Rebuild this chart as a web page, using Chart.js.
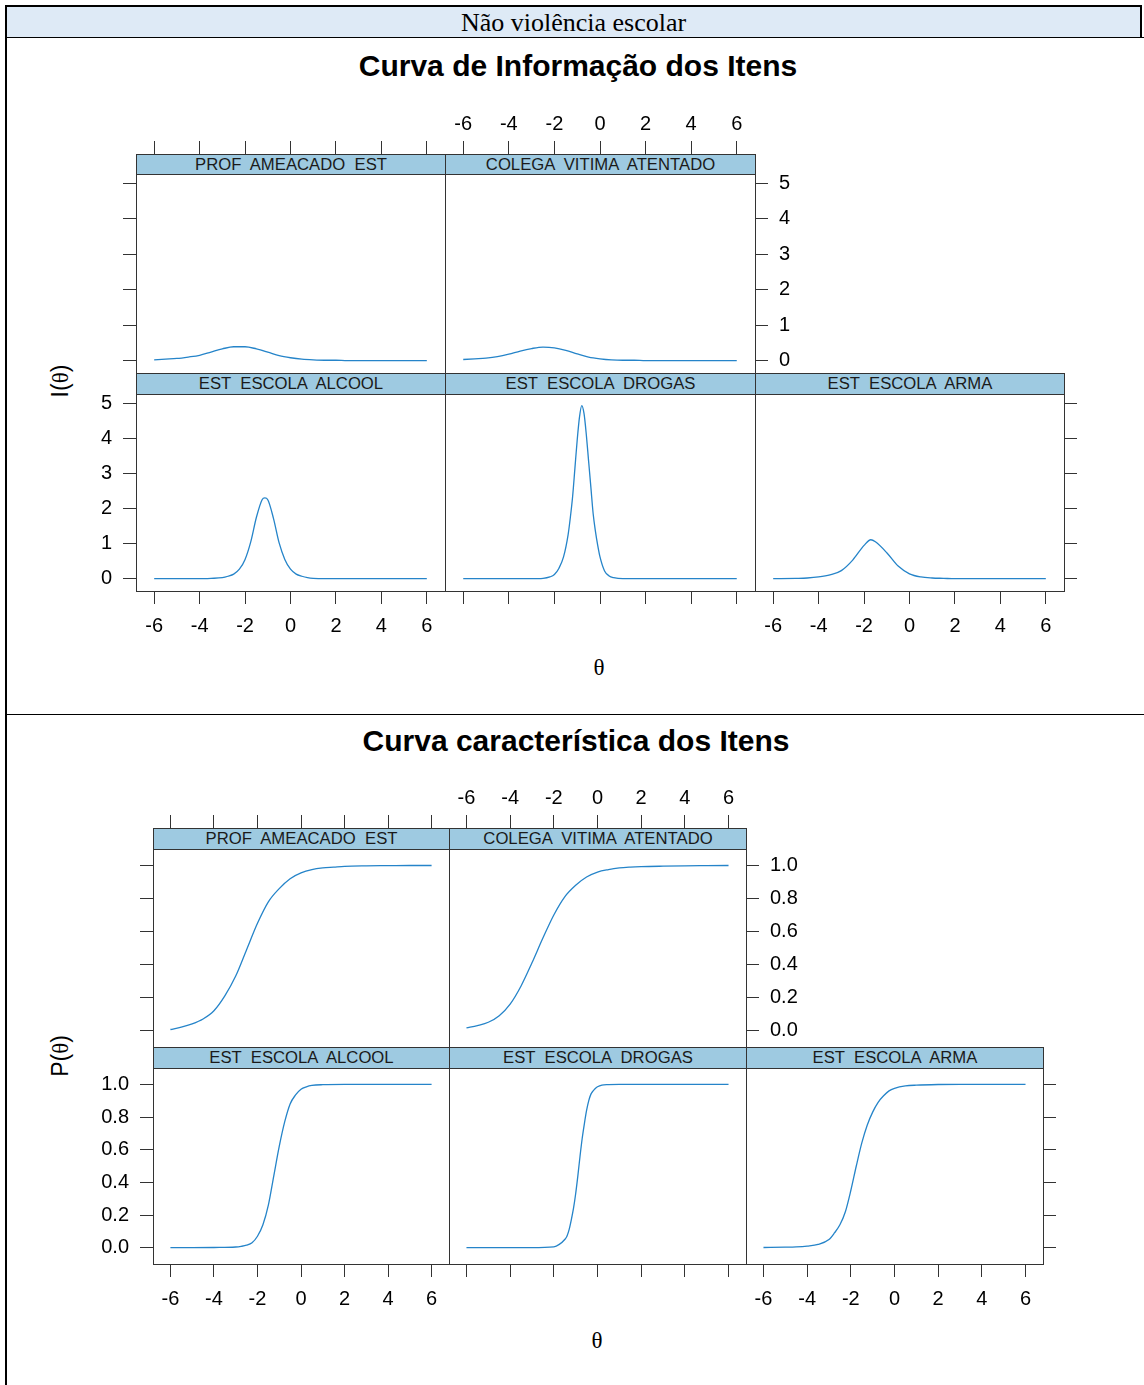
<!DOCTYPE html>
<html><head><meta charset="utf-8">
<script src="https://cdn.jsdelivr.net/npm/chart.js@4.4.1/dist/chart.umd.min.js"></script>
<style>
html,body{margin:0;padding:0;background:#fff}
body{width:1144px;height:1385px;position:relative;overflow:hidden;font-family:"Liberation Sans",Arial,sans-serif}
.box{position:absolute}
.strip{position:absolute;background:#9ecae1;border:1px solid #333;box-sizing:border-box;text-align:center;font-size:16.7px;color:#1a1a1a;white-space:pre;z-index:3}
.frame{position:absolute;border:1px solid #333;box-sizing:border-box;z-index:2;pointer-events:none}
canvas.panel{position:absolute;z-index:1}
.title{position:absolute;font-weight:bold;font-size:30px;transform:translate(-50%,-50%);white-space:nowrap;color:#000}
.ylab{position:absolute;font-size:23px;transform:translate(-50%,-50%) rotate(-90deg);white-space:nowrap}
.xlab{position:absolute;font-size:23px;transform:translate(-50%,-50%);font-family:"Liberation Serif","Times New Roman",serif}
.sym{font-family:"Liberation Serif","Times New Roman",serif}
</style>
</head>
<body>
<!-- table frame -->
<div class="box" style="left:5px;top:5px;width:1137px;height:2px;background:#000"></div>
<div class="box" style="left:5px;top:5px;width:2px;height:1380px;background:#000"></div>
<div class="box" style="left:7px;top:7px;width:1133px;height:30px;background:#deeaf6"></div>
<div class="box" style="left:1140px;top:5px;width:2px;height:33px;background:#000"></div>
<div class="box" style="left:5px;top:37px;width:1139px;height:1px;background:#000"></div>
<div class="box" style="left:5px;top:714px;width:1139px;height:1px;background:#000"></div>
<div class="box" style="left:7px;top:7px;width:1133px;height:30px;line-height:31px;text-align:center;font-family:'Liberation Serif','Times New Roman',serif;font-size:26px;color:#000">Não violência escolar</div>

<div class="title" style="left:578px;top:66px">Curva de Informação dos Itens</div>
<div class="title" style="left:576px;top:741px">Curva característica dos Itens</div>
<div class="ylab" style="left:60px;top:381px">I(<span class="sym">θ</span>)</div>
<div class="ylab" style="left:60px;top:1056px">P(<span class="sym">θ</span>)</div>
<div class="xlab" style="left:599px;top:668px">θ</div>
<div class="xlab" style="left:597px;top:1341px">θ</div>

<script>
// ---------- data ----------
const itemNames = ['PROF  AMEACADO  EST', 'COLEGA  VITIMA  ATENTADO', 'EST  ESCOLA  ALCOOL', 'EST  ESCOLA  DROGAS', 'EST  ESCOLA  ARMA'];
const xTicks = [-6, -4, -2, 0, 2, 4, 6];
const infoYTicks = [0, 1, 2, 3, 4, 5];
const iccYTicks = [0, 0.2, 0.4, 0.6, 0.8, 1.0];
const iccYTickLabels = ['0.0', '0.2', '0.4', '0.6', '0.8', '1.0'];

// Item information curves
const thetaInfoProfColega = [-6,-5.5,-5,-4.5,-4,-3.5,-3,-2.5,-2,-1.5,-1,-0.5,0,0.5,1,1.5,2,2.5,3,4,5,6];
const infoProf   = [0.02,0.04,0.06,0.10,0.15,0.24,0.33,0.39,0.39,0.33,0.24,0.14,0.08,0.04,0.02,0.01,0.01,0,0,0,0,0];
const infoColega = [0.03,0.05,0.07,0.11,0.18,0.27,0.34,0.38,0.36,0.29,0.19,0.10,0.05,0.02,0.01,0.01,0,0,0,0,0,0];
const thetaInfoAlcool = [-6,-5,-4,-3.5,-3,-2.75,-2.5,-2.25,-2,-1.75,-1.5,-1.25,-1.13,-1,-0.75,-0.5,-0.25,0,0.25,0.5,0.75,1,1.5,2,3,4,5,6];
const infoAlcool = [0,0,0,0.01,0.03,0.07,0.13,0.27,0.55,1.05,1.75,2.25,2.30,2.25,1.72,1.02,0.55,0.27,0.13,0.07,0.03,0.01,0,0,0,0,0,0];
const thetaInfoDrogas = [-6,-5,-4,-3,-2.5,-2.2,-2,-1.8,-1.6,-1.4,-1.3,-1.2,-1.1,-1,-0.9,-0.8,-0.7,-0.6,-0.5,-0.4,-0.3,-0.2,-0.1,0,0.2,0.4,0.6,1,2,3,4,5,6];
const infoDrogas = [0,0,0,0,0.01,0.05,0.12,0.30,0.62,1.25,1.75,2.35,3.15,3.95,4.60,4.93,4.70,4.10,3.35,2.60,1.85,1.35,0.95,0.62,0.22,0.08,0.03,0,0,0,0,0,0];
const thetaInfoArma = [-6,-5,-4.5,-4,-3.5,-3,-2.5,-2,-1.7,-1.5,-1,-0.5,0,0.5,1,1.5,2,3,4,5,6];
const infoArma = [0,0.01,0.02,0.05,0.11,0.23,0.53,0.95,1.11,1.05,0.74,0.36,0.14,0.05,0.02,0.01,0,0,0,0,0];

// Item characteristic curves
const thetaIccProfColega = [-6,-5.5,-5,-4.5,-4,-3.5,-3,-2.5,-2,-1.5,-1,-0.5,0,0.5,1,1.5,2,3,4,5,6];
const iccProf   = [0.006,0.02,0.04,0.07,0.12,0.21,0.33,0.49,0.65,0.78,0.86,0.92,0.955,0.975,0.985,0.99,0.995,0.998,0.999,1,1];
const iccColega = [0.016,0.03,0.05,0.09,0.16,0.27,0.41,0.56,0.70,0.81,0.88,0.93,0.96,0.975,0.985,0.99,0.993,0.996,0.998,0.999,1];
const thetaIccAlcool = [-6,-5,-4,-3,-2.75,-2.5,-2.25,-2,-1.75,-1.5,-1.25,-1,-0.75,-0.5,-0.25,0,0.25,0.5,1,2,3,4,5,6];
const iccAlcool = [0,0,0.001,0.004,0.008,0.015,0.03,0.07,0.14,0.26,0.44,0.62,0.77,0.88,0.935,0.97,0.985,0.993,0.998,1,1,1,1,1];
const thetaIccDrogas = [-6,-5,-4,-3,-2,-1.75,-1.5,-1.4,-1.3,-1.2,-1.1,-1,-0.9,-0.8,-0.7,-0.6,-0.5,-0.4,-0.3,-0.2,-0.1,0,0.2,0.5,1,2,3,4,5,6];
const iccDrogas = [0,0,0,0,0.005,0.02,0.05,0.07,0.11,0.17,0.24,0.33,0.44,0.56,0.67,0.76,0.84,0.90,0.94,0.96,0.975,0.985,0.995,0.998,1,1,1,1,1,1];
const thetaIccArma = [-6,-5,-4.5,-4,-3.5,-3,-2.75,-2.5,-2.25,-2,-1.75,-1.5,-1.25,-1,-0.75,-0.5,-0.25,0,0.5,1,2,3,4,5,6];
const iccArma = [0.001,0.003,0.005,0.01,0.02,0.05,0.09,0.14,0.22,0.35,0.50,0.64,0.75,0.83,0.89,0.93,0.96,0.975,0.99,0.995,0.999,1,1,1,1];

// ---------- drawing ----------
const FONT = "'Liberation Sans', Arial, sans-serif";
const LINE = '#2584c9';
const AX = '#333333';
const ML = 80, MR = 80, MT = 80, MB = 70, TL = 13;

function xScale(mode, position, tl, xlim) {
  return {
    type: 'linear', position, min: xlim[0], max: xlim[1], display: true,
    afterBuildTicks: s => { s.ticks = xTicks.map(v => ({ value: v })); },
    afterFit: s => { s.height = position === 'top' ? MT : MB; },
    border: { display: false },
    grid: { display: mode !== 'none', drawOnChartArea: false, drawTicks: true, tickLength: tl, color: AX, tickColor: AX, lineWidth: 1, tickWidth: 1 },
    ticks: { display: mode === 'labels', autoSkip: false, maxRotation: 0, minRotation: 0,
             padding: position === 'top' ? 7 : 12, color: '#000',
             font: { family: FONT, size: 20, lineHeight: 1 },
             callback: v => String(v) }
  };
}
function yScale(mode, position, ylim, yt, ylabels) {
  return {
    type: 'linear', position, min: ylim[0], max: ylim[1], display: true,
    afterBuildTicks: s => { s.ticks = yt.map(v => ({ value: v })); },
    afterFit: s => { s.width = position === 'left' ? ML : MR; },
    border: { display: false },
    grid: { display: mode !== 'none', drawOnChartArea: false, drawTicks: true, tickLength: TL, color: AX, tickColor: AX, lineWidth: 1, tickWidth: 1 },
    ticks: { display: mode === 'labels', autoSkip: false, padding: 11, color: '#000',
             font: { family: FONT, size: 20, lineHeight: 1 },
             callback: (v, i) => ylabels ? ylabels[i] : String(v) }
  };
}

function makeFigure(fig) {
  fig.panels.forEach(p => {
    const left = fig.cols[p.col], w = fig.cols[p.col + 1] - left;
    const row = fig.rows[p.row];
    const top = row.top, h = row.bottom - row.top;
    const stripH = row.top - row.strip;

    const cv = document.createElement('canvas');
    cv.className = 'panel';
    const W = w + ML + MR, H = h + MT + MB;
    cv.width = W; cv.height = H;
    cv.style.left = (left - ML) + 'px'; cv.style.top = (top - MT) + 'px';
    cv.style.width = W + 'px'; cv.style.height = H + 'px';
    document.body.appendChild(cv);

    const pts = p.theta.map((t, i) => ({ x: t, y: p.values[i] }));
    new Chart(cv, {
      type: 'line',
      data: { datasets: [{ data: pts, borderColor: LINE, borderWidth: 1.3, pointRadius: 0, fill: false,
                           cubicInterpolationMode: 'monotone', xAxisID: 'x', yAxisID: 'y' }] },
      options: {
        responsive: false, animation: false, events: [], devicePixelRatio: 1,
        layout: { padding: 0 },
        plugins: { legend: { display: false }, tooltip: { enabled: false }, title: { display: false } },
        scales: {
          x: xScale(p.axes.bottom || 'none', 'bottom', TL, fig.xlim),
          x2: xScale(p.axes.top || 'none', 'top', TL + stripH, fig.xlim),
          y: yScale(p.axes.left || 'none', 'left', fig.ylim, fig.yTicks, fig.yLabels),
          y2: yScale(p.axes.right || 'none', 'right', fig.ylim, fig.yTicks, fig.yLabels)
        }
      }
    });

    const fr = document.createElement('div');
    fr.className = 'frame';
    fr.style.left = left + 'px'; fr.style.top = top + 'px';
    fr.style.width = (w + 1) + 'px'; fr.style.height = (h + 1) + 'px';
    document.body.appendChild(fr);

    const st = document.createElement('div');
    st.className = 'strip';
    st.style.left = left + 'px'; st.style.top = row.strip + 'px';
    st.style.width = (w + 1) + 'px'; st.style.height = (stripH + 1) + 'px';
    st.style.lineHeight = (stripH - 1) + 'px';
    st.textContent = p.name;
    document.body.appendChild(st);
  });
}

makeFigure({
  cols: [136, 445, 755, 1064],
  rows: [{ strip: 154, top: 174, bottom: 373 }, { strip: 373, top: 394, bottom: 591 }],
  xlim: [-6.8, 6.8], ylim: [-0.35, 5.26], yTicks: infoYTicks, yLabels: null,
  panels: [
    { name: itemNames[2], row: 1, col: 0, theta: thetaInfoAlcool, values: infoAlcool, axes: { left: 'labels', bottom: 'labels' } },
    { name: itemNames[3], row: 1, col: 1, theta: thetaInfoDrogas, values: infoDrogas, axes: { bottom: 'ticks' } },
    { name: itemNames[4], row: 1, col: 2, theta: thetaInfoArma, values: infoArma, axes: { bottom: 'labels', right: 'ticks' } },
    { name: itemNames[0], row: 0, col: 0, theta: thetaInfoProfColega, values: infoProf, axes: { top: 'ticks', left: 'ticks' } },
    { name: itemNames[1], row: 0, col: 1, theta: thetaInfoProfColega, values: infoColega, axes: { top: 'labels', right: 'labels' } }
  ]
});

makeFigure({
  cols: [153, 449, 746, 1043],
  rows: [{ strip: 828, top: 849, bottom: 1047 }, { strip: 1047, top: 1068, bottom: 1264 }],
  xlim: [-6.8, 6.8], ylim: [-0.1, 1.1], yTicks: iccYTicks, yLabels: iccYTickLabels,
  panels: [
    { name: itemNames[2], row: 1, col: 0, theta: thetaIccAlcool, values: iccAlcool, axes: { left: 'labels', bottom: 'labels' } },
    { name: itemNames[3], row: 1, col: 1, theta: thetaIccDrogas, values: iccDrogas, axes: { bottom: 'ticks' } },
    { name: itemNames[4], row: 1, col: 2, theta: thetaIccArma, values: iccArma, axes: { bottom: 'labels', right: 'ticks' } },
    { name: itemNames[0], row: 0, col: 0, theta: thetaIccProfColega, values: iccProf, axes: { top: 'ticks', left: 'ticks' } },
    { name: itemNames[1], row: 0, col: 1, theta: thetaIccProfColega, values: iccColega, axes: { top: 'labels', right: 'labels' } }
  ]
});
</script>
</body></html>
